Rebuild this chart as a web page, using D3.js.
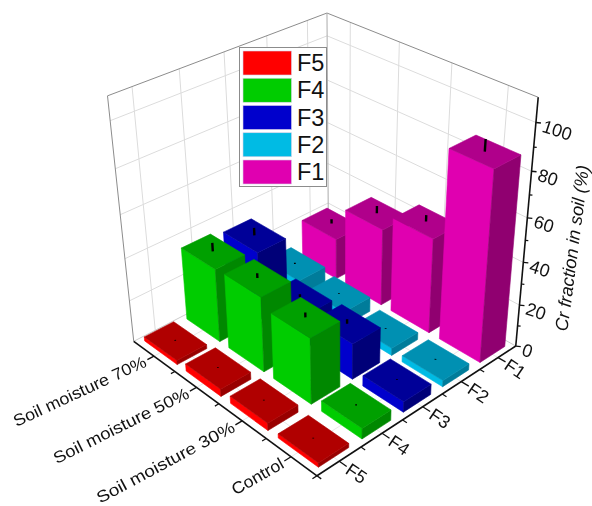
<!DOCTYPE html>
<html><head><meta charset="utf-8">
<script src="https://cdnjs.cloudflare.com/ajax/libs/d3/7.8.5/d3.min.js"></script>
<style>html,body{margin:0;padding:0;background:#fff}svg{display:block;filter:blur(.35px)}text{font-family:"Liberation Sans",Arial,sans-serif}</style>
</head><body><div id="c"></div>
<script>
const moisture=["Soil moisture 70%","Soil moisture 50%","Soil moisture 30%","Control"];
const fractions=["F5","F4","F3","F2","F1"];
const legendOrder=["F5","F4","F3","F2","F1"];
const zTicks=[0,20,40,60,80,100];
const zMinor=[10,30,50,70,90];
const F5=[2,3.5,3.5,2];
const F4=[35,35.5,31,5];
const F3=[33,16,17,5];
const F2=[9,7,3.5,3];
const F1=[20,37,45,87];
const F5err=[.2,.2,.2,.2];
const F4err=[2,1.1,1.1,.3];
const F3err=[1.8,.7,1.1,.2];
const F2err=[.3,.2,.2,.2];
const F1err=[1.1,1.75,1.5,2.6];
const values={F5,F4,F3,F2,F1};
const errors={F5:F5err,F4:F4err,F3:F3err,F2:F2err,F1:F1err};
const colors={
 F5:{front:"#ff0000",top:"#b00000",side:"#980000"},
 F4:{front:"#00cc00",top:"#00a000",side:"#008800"},
 F3:{front:"#0000cc",top:"#000098",side:"#000078"},
 F2:{front:"#00bbe4",top:"#0090b2",side:"#007c9a"},
 F1:{front:"#e000b0",top:"#b0008b",side:"#900070"}};

const W=592,H=506;
const svg=d3.select("#c").append("svg").attr("width",W).attr("height",H).attr("viewBox",`0 0 ${W} ${H}`);

const calib=[[0,0,0,132,340],[1,0,0,318,475],[1,1,0,517,345],
 [0,0,1,107,95],[1,1,1,538,97],[0,1,1,327,14],
 [1,1,20/110,520.6,303],[1,1,40/110,524,262],[1,1,60/110,527.8,217],[1,1,80/110,531.6,172],[1,1,100/110,535.8,123],
 [.125,0,0,155,357],[.375,0,0,198,388],[.625,0,0,243,421],[.875,0,0,292,456],
 [1,.1,0,338,462],[1,.3,0,381,434],[1,.5,0,421,408],[1,.7,0,461,382],[1,.9,0,496,359]];
function solve(A,b){const n=b.length,M=A.map((r,i)=>[...r,b[i]]);
 for(let i=0;i<n;i++){let p=i;for(let k=i+1;k<n;k++)if(Math.abs(M[k][i])>Math.abs(M[p][i]))p=k;[M[i],M[p]]=[M[p],M[i]];
  for(let k=0;k<n;k++)if(k!==i){const f=M[k][i]/M[i][i];for(let j=i;j<=n;j++)M[k][j]-=f*M[i][j];}}
 return M.map((r,i)=>r[n]/r[i]);}
const rows=[],rhs=[];
calib.forEach(([u,v,z,x,y])=>{rows.push([u,v,z,1,0,0,0,0,-x*u,-x*v,-x*z]);rhs.push(x);rows.push([0,0,0,0,u,v,z,1,-y*u,-y*v,-y*z]);rhs.push(y);});
const ATA=d3.range(11).map(i=>d3.range(11).map(j=>d3.sum(rows,r=>r[i]*r[j])));
const ATb=d3.range(11).map(i=>d3.sum(rows,(r,k)=>r[i]*rhs[k]));
const c=solve(ATA,ATb);
function P(u,v,z){const w=c[8]*u+c[9]*v+c[10]*z+1;return [(c[0]*u+c[1]*v+c[2]*z+c[3])/w,(c[4]*u+c[5]*v+c[6]*z+c[7])/w];}

const uS=d3.scaleBand().domain(moisture).range([0,1]).paddingInner(0.21).paddingOuter(0.105);
const vS=d3.scaleBand().domain(fractions).range([0,1]).paddingInner(0.31).paddingOuter(0.155);
const zS=d3.scaleLinear().domain([0,110]).range([0,1]);
const uC=d=>uS(d)+uS.bandwidth()/2, vC=d=>vS(d)+vS.bandwidth()/2;
const line=d3.line();
const seg=(g,a,b,col,w)=>g.append("path").attr("d",line([a,b])).attr("stroke",col).attr("stroke-width",w).attr("fill","none");
const poly=(g,pts,fill,stroke)=>g.append("path").attr("d",line(pts)+"Z").attr("fill",fill).attr("stroke",stroke||fill).attr("stroke-width",.6).attr("stroke-linejoin","round");

// grid
const grid=svg.append("g");const gc="#dcdcdc";
zTicks.slice(1).forEach(t=>{const z=zS(t);
 seg(grid,P(0,0,z),P(0,1,z),gc,1);seg(grid,P(0,1,z),P(1,1,z),gc,1);});
fractions.forEach(f=>{const v=vC(f);seg(grid,P(0,v,0),P(0,v,1),gc,1);seg(grid,P(0,v,0),P(1,v,0),"#e8e8e8",1);});
moisture.forEach(m=>{const u=uC(m);seg(grid,P(u,1,0),P(u,1,1),gc,1);seg(grid,P(u,0,0),P(u,1,0),"#e8e8e8",1);});
// wall frame
const fr="#8c8c8c";
seg(grid,P(0,0,0),P(0,0,1),fr,1);seg(grid,P(0,0,1),P(0,1,1),fr,1);seg(grid,P(0,1,1),P(1,1,1),fr,1);
seg(grid,P(0,1,0),P(0,1,1),"#aaa",1);seg(grid,P(0,0,0),P(0,1,0),"#ccc",1);seg(grid,P(0,1,0),P(1,1,0),"#ccc",1);

// bars painter order: back to front
const bars=svg.append("g");
[...fractions].reverse().forEach(f=>{
 moisture.forEach((m,i)=>{
  const u0=uS(m),u1=u0+uS.bandwidth(),v0=vS(f),v1=v0+vS.bandwidth(),z=zS(values[f][i]);
  const col=colors[f],g=bars.append("g");
  poly(g,[P(u0,v0,0),P(u1,v0,0),P(u1,v0,z),P(u0,v0,z)],col.front);
  poly(g,[P(u1,v0,0),P(u1,v1,0),P(u1,v1,z),P(u1,v0,z)],col.side);
  poly(g,[P(u0,v0,z),P(u1,v0,z),P(u1,v1,z),P(u0,v1,z)],col.top);
  const e=errors[f][i],uc=uC(m),vc=vC(f);
  seg(g,P(uc,vc,zS(values[f][i])),P(uc,vc,zS(values[f][i]+e*2)),"#000",e<.5?1.8:2.4);
 });
});

// axes
const ax=svg.append("g");const k="#111";
seg(ax,P(0,0,0),P(1,0,0),k,1.6);seg(ax,P(1,0,0),P(1,1,0),k,1.6);seg(ax,P(1,1,0),P(1,1,1),k,1.6);
seg(ax,P(1,0,0),P(1,-.02,0),k,1.4);seg(ax,P(1,0,0),P(1.02,0,0),k,1.4);
moisture.forEach((m,i)=>{const u=uC(m);const e=P(u,-.03,0);seg(ax,P(u,0,0),e,k,1.3);
 const sx=i<3?1.09+i*.035:1.08;
 ax.append("text").attr("transform",`translate(${e[0]-2},${e[1]+1}) rotate(${-25-i*1.6}) scale(${sx},1)`).attr("text-anchor","end").attr("dy","0.35em").attr("font-size",16.5).attr("fill","#111").text(m);
 if(i<moisture.length-1){const u2=(u+uC(moisture[i+1]))/2;seg(ax,P(u2,0,0),P(u2,-.018,0),k,1.2);}});
fractions.forEach((f,i)=>{const v=vC(f);const e=P(1.035,v,0);seg(ax,P(1,v,0),e,k,1.3);
 ax.append("text").attr("transform",`translate(${e[0]+1},${e[1]+1}) rotate(34)`).attr("text-anchor","start").attr("dy","0.35em").attr("font-size",18).attr("fill","#111").text(f);
 if(i<fractions.length-1){const v2=(v+vC(fractions[i+1]))/2;seg(ax,P(1,v2,0),P(1.02,v2,0),k,1.2);}});
zTicks.forEach(t=>{const a=P(1,1,zS(t));seg(ax,a,[a[0]+5,a[1]+.5],k,1.3);
 ax.append("text").attr("transform",`translate(${a[0]+7},${a[1]+3}) rotate(18)`).attr("dy","0.35em").attr("font-size",18).attr("fill","#111").text(t);});
zMinor.forEach(t=>{const a=P(1,1,zS(t));seg(ax,a,[a[0]+3,a[1]+.3],k,1.2);});
ax.append("text").attr("transform","translate(572,248) rotate(-82.5)").attr("text-anchor","middle").attr("dy","0.35em").attr("font-size",18).attr("font-style","italic").attr("fill","#111").text("Cr fraction in soil (%)");

// legend
const lg=svg.append("g");
lg.append("rect").attr("x",239.5).attr("y",47.5).attr("width",87).attr("height",139).attr("fill","#fff").attr("stroke","#8c8c8c").attr("stroke-width",1);
const ly=d3.scalePoint().domain(legendOrder).range([51,160]);
legendOrder.forEach(f=>{
 lg.append("rect").attr("x",243).attr("y",ly(f)).attr("width",48.5).attr("height",24).attr("fill",colors[f].front).attr("stroke","#d8d0e8").attr("stroke-width",.6);
 lg.append("text").attr("x",297).attr("y",ly(f)+12).attr("dy","0.35em").attr("font-size",23.5).attr("fill","#111").text(f);
});
</script></body></html>
